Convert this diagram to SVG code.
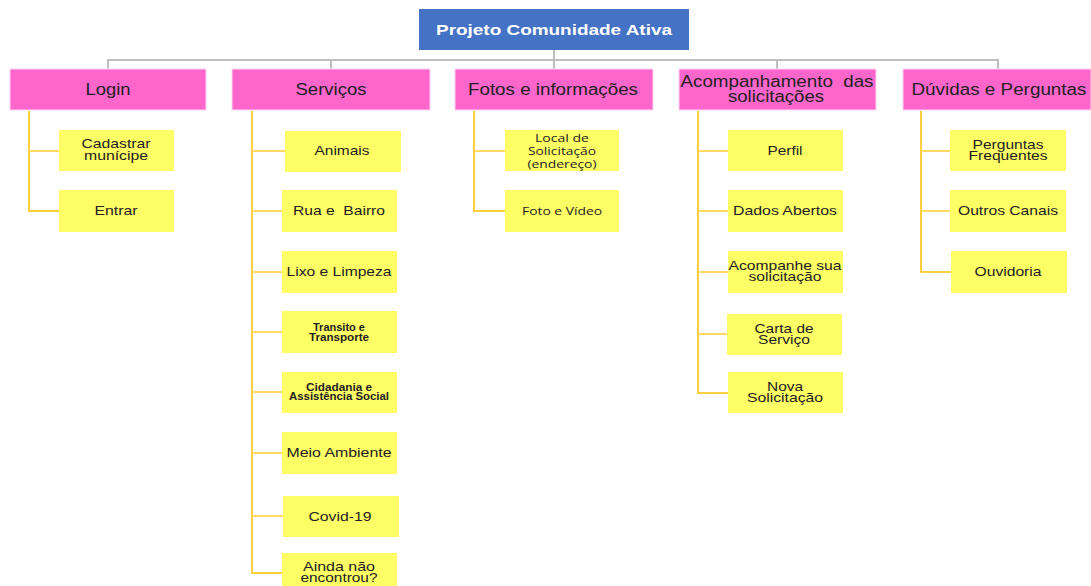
<svg xmlns="http://www.w3.org/2000/svg" width="1091" height="586" viewBox="0 0 1091 586">
  <style>
    .root { fill: #4472C4; }
    .lvl1 { fill: #FF66CC; stroke: #FFD6F0; stroke-width: 1; }
    .leaf { fill: #FFFF66; }
    .t { font-family: "Liberation Sans", Arial, sans-serif; fill: #222; text-anchor: middle; dominant-baseline: central; }
    .t1 { font-size: 16px; }
    .t2 { font-size: 13px; }
    .t3 { font-size: 10px; font-weight: bold; }
    .t4 { font-family: "Open Sans", "Liberation Sans", sans-serif; font-size: 11px; }
    .rootText { font-family: "Liberation Sans", Arial, sans-serif; font-size: 15px; font-weight: bold; fill: #fff; text-anchor: middle; dominant-baseline: central; }
    .gray { fill: none; stroke: #BFBFBF; stroke-width: 2; }
    .trunk { fill: none; stroke: #FFC000; stroke-width: 1.5; }
    .branch { fill: none; stroke: #FFD966; stroke-width: 2; }
  </style>
  <rect width="1091" height="586" fill="#fff"/>

  <g id="connectors">
    <!-- root to section headers -->
    <path class="gray" d="M554,50 V60 M108,69 V60 H998 V69 M331,60 V69 M554,60 V69 M777,60 V69"/>
    <!-- Login -->
    <path class="trunk" d="M29,111 V211 H59"/>
    <path class="branch" d="M29,151 H59"/>
    <!-- Serviços -->
    <path class="trunk" d="M252,111 V573 H282"/>
    <path class="branch" d="M252,151 H285 M252,211 H282 M252,272 H282 M252,332 H282 M252,392 H282 M252,453 H282 M252,516 H283"/>
    <!-- Fotos e informações -->
    <path class="trunk" d="M474,111 V211 H505"/>
    <path class="branch" d="M474,151 H505"/>
    <!-- Acompanhamento -->
    <path class="trunk" d="M698,111 V393 H728"/>
    <path class="branch" d="M698,151 H728 M698,211 H728 M698,272 H728 M698,334 H727"/>
    <!-- Dúvidas -->
    <path class="trunk" d="M921,111 V272 H951"/>
    <path class="branch" d="M921,151 H950 M921,211 H950"/>
  </g>

  <g id="root">
    <rect class="root" x="419" y="9" width="270" height="41"/>
    <text class="rootText" x="554" y="29" textLength="236" lengthAdjust="spacingAndGlyphs">Projeto Comunidade Ativa</text>
  </g>

  <g id="login">
    <rect class="lvl1" x="10" y="69" width="196" height="41"/>
    <text class="t t1" x="108" y="89" textLength="45" lengthAdjust="spacingAndGlyphs">Login</text>
  </g>
  <g id="servicos">
    <rect class="lvl1" x="232" y="69" width="198" height="41"/>
    <text class="t t1" x="331" y="89" textLength="71" lengthAdjust="spacingAndGlyphs">Serviços</text>
  </g>
  <g id="fotos">
    <rect class="lvl1" x="455" y="69" width="198" height="41"/>
    <text class="t t1" x="553" y="89" textLength="170" lengthAdjust="spacingAndGlyphs">Fotos e informações</text>
  </g>
  <g id="acompanhamento">
    <rect class="lvl1" x="679" y="69" width="197" height="41"/>
    <text class="t t1" x="777" y="81" textLength="193" lengthAdjust="spacingAndGlyphs" xml:space="preserve">Acompanhamento  das</text>
    <text class="t t1" x="776" y="96" textLength="96" lengthAdjust="spacingAndGlyphs">solicitações</text>
  </g>
  <g id="duvidas">
    <rect class="lvl1" x="903" y="69" width="188" height="41"/>
    <text class="t t1" x="999" y="89" textLength="175" lengthAdjust="spacingAndGlyphs">Dúvidas e Perguntas</text>
  </g>

  <!-- Login items -->
  <g id="cadastrar">
    <rect class="leaf" x="59" y="130" width="115" height="41"/>
    <text class="t t2" x="116" y="143" textLength="69" lengthAdjust="spacingAndGlyphs">Cadastrar</text>
    <text class="t t2" x="116" y="155" textLength="64" lengthAdjust="spacingAndGlyphs">munícipe</text>
  </g>
  <g id="entrar">
    <rect class="leaf" x="59" y="190" width="115" height="42"/>
    <text class="t t2" x="116" y="210" textLength="43" lengthAdjust="spacingAndGlyphs">Entrar</text>
  </g>

  <!-- Serviços items -->
  <g id="animais">
    <rect class="leaf" x="285" y="131" width="116" height="41"/>
    <text class="t t2" x="342" y="150" textLength="55" lengthAdjust="spacingAndGlyphs">Animais</text>
  </g>
  <g id="rua">
    <rect class="leaf" x="282" y="190" width="115" height="42"/>
    <text class="t t2" x="339" y="210" textLength="92" lengthAdjust="spacingAndGlyphs" xml:space="preserve">Rua e  Bairro</text>
  </g>
  <g id="lixo">
    <rect class="leaf" x="282" y="251" width="115" height="42"/>
    <text class="t t2" x="339" y="271" textLength="105" lengthAdjust="spacingAndGlyphs">Lixo e Limpeza</text>
  </g>
  <g id="transito">
    <rect class="leaf" x="282" y="311" width="115" height="42"/>
    <text class="t t3" x="339" y="327" textLength="52" lengthAdjust="spacingAndGlyphs">Transito e</text>
    <text class="t t3" x="339" y="337" textLength="60" lengthAdjust="spacingAndGlyphs">Transporte</text>
  </g>
  <g id="cidadania">
    <rect class="leaf" x="282" y="372" width="115" height="41"/>
    <text class="t t3" x="339" y="387" textLength="66" lengthAdjust="spacingAndGlyphs">Cidadania e</text>
    <text class="t t3" x="339" y="396" textLength="100" lengthAdjust="spacingAndGlyphs">Assistência Social</text>
  </g>
  <g id="meio">
    <rect class="leaf" x="282" y="432" width="115" height="42"/>
    <text class="t t2" x="339" y="452" textLength="105" lengthAdjust="spacingAndGlyphs">Meio Ambiente</text>
  </g>
  <g id="covid">
    <rect class="leaf" x="283" y="496" width="116" height="41"/>
    <text class="t t2" x="340" y="516" textLength="63" lengthAdjust="spacingAndGlyphs">Covid-19</text>
  </g>
  <g id="ainda">
    <rect class="leaf" x="282" y="553" width="115" height="40"/>
    <text class="t t2" x="339" y="566" textLength="72" lengthAdjust="spacingAndGlyphs">Ainda não</text>
    <text class="t t2" x="339" y="577" textLength="77" lengthAdjust="spacingAndGlyphs">encontrou?</text>
  </g>

  <!-- Fotos items -->
  <g id="local">
    <rect class="leaf" x="505" y="130" width="114" height="41"/>
    <text class="t t4" x="562" y="137" textLength="54" lengthAdjust="spacingAndGlyphs">Local de</text>
    <text class="t t4" x="562" y="150" textLength="68" lengthAdjust="spacingAndGlyphs">Solicitação</text>
    <text class="t t4" x="562" y="163" textLength="69" lengthAdjust="spacingAndGlyphs">(endereço)</text>
  </g>
  <g id="foto">
    <rect class="leaf" x="505" y="190" width="114" height="42"/>
    <text class="t t4" x="562" y="210" textLength="80" lengthAdjust="spacingAndGlyphs">Foto e Vídeo</text>
  </g>

  <!-- Acompanhamento items -->
  <g id="perfil">
    <rect class="leaf" x="728" y="130" width="115" height="41"/>
    <text class="t t2" x="785" y="150" textLength="35" lengthAdjust="spacingAndGlyphs">Perfil</text>
  </g>
  <g id="dados">
    <rect class="leaf" x="728" y="190" width="115" height="42"/>
    <text class="t t2" x="785" y="210" textLength="104" lengthAdjust="spacingAndGlyphs">Dados Abertos</text>
  </g>
  <g id="acompanhe">
    <rect class="leaf" x="728" y="251" width="115" height="42"/>
    <text class="t t2" x="785" y="265" textLength="113" lengthAdjust="spacingAndGlyphs">Acompanhe sua</text>
    <text class="t t2" x="785" y="276" textLength="73" lengthAdjust="spacingAndGlyphs">solicitação</text>
  </g>
  <g id="carta">
    <rect class="leaf" x="727" y="314" width="115" height="41"/>
    <text class="t t2" x="784" y="328" textLength="59" lengthAdjust="spacingAndGlyphs">Carta de</text>
    <text class="t t2" x="784" y="339" textLength="52" lengthAdjust="spacingAndGlyphs">Serviço</text>
  </g>
  <g id="nova">
    <rect class="leaf" x="728" y="372" width="115" height="41"/>
    <text class="t t2" x="785" y="386" textLength="36" lengthAdjust="spacingAndGlyphs">Nova</text>
    <text class="t t2" x="785" y="397" textLength="76" lengthAdjust="spacingAndGlyphs">Solicitação</text>
  </g>

  <!-- Dúvidas items -->
  <g id="perguntas">
    <rect class="leaf" x="950" y="130" width="116" height="41"/>
    <text class="t t2" x="1008" y="144" textLength="71" lengthAdjust="spacingAndGlyphs">Perguntas</text>
    <text class="t t2" x="1008" y="155" textLength="79" lengthAdjust="spacingAndGlyphs">Frequentes</text>
  </g>
  <g id="outros">
    <rect class="leaf" x="950" y="190" width="116" height="42"/>
    <text class="t t2" x="1008" y="210" textLength="100" lengthAdjust="spacingAndGlyphs">Outros Canais</text>
  </g>
  <g id="ouvidoria">
    <rect class="leaf" x="951" y="251" width="116" height="42"/>
    <text class="t t2" x="1008" y="271" textLength="67" lengthAdjust="spacingAndGlyphs">Ouvidoria</text>
  </g>
</svg>
